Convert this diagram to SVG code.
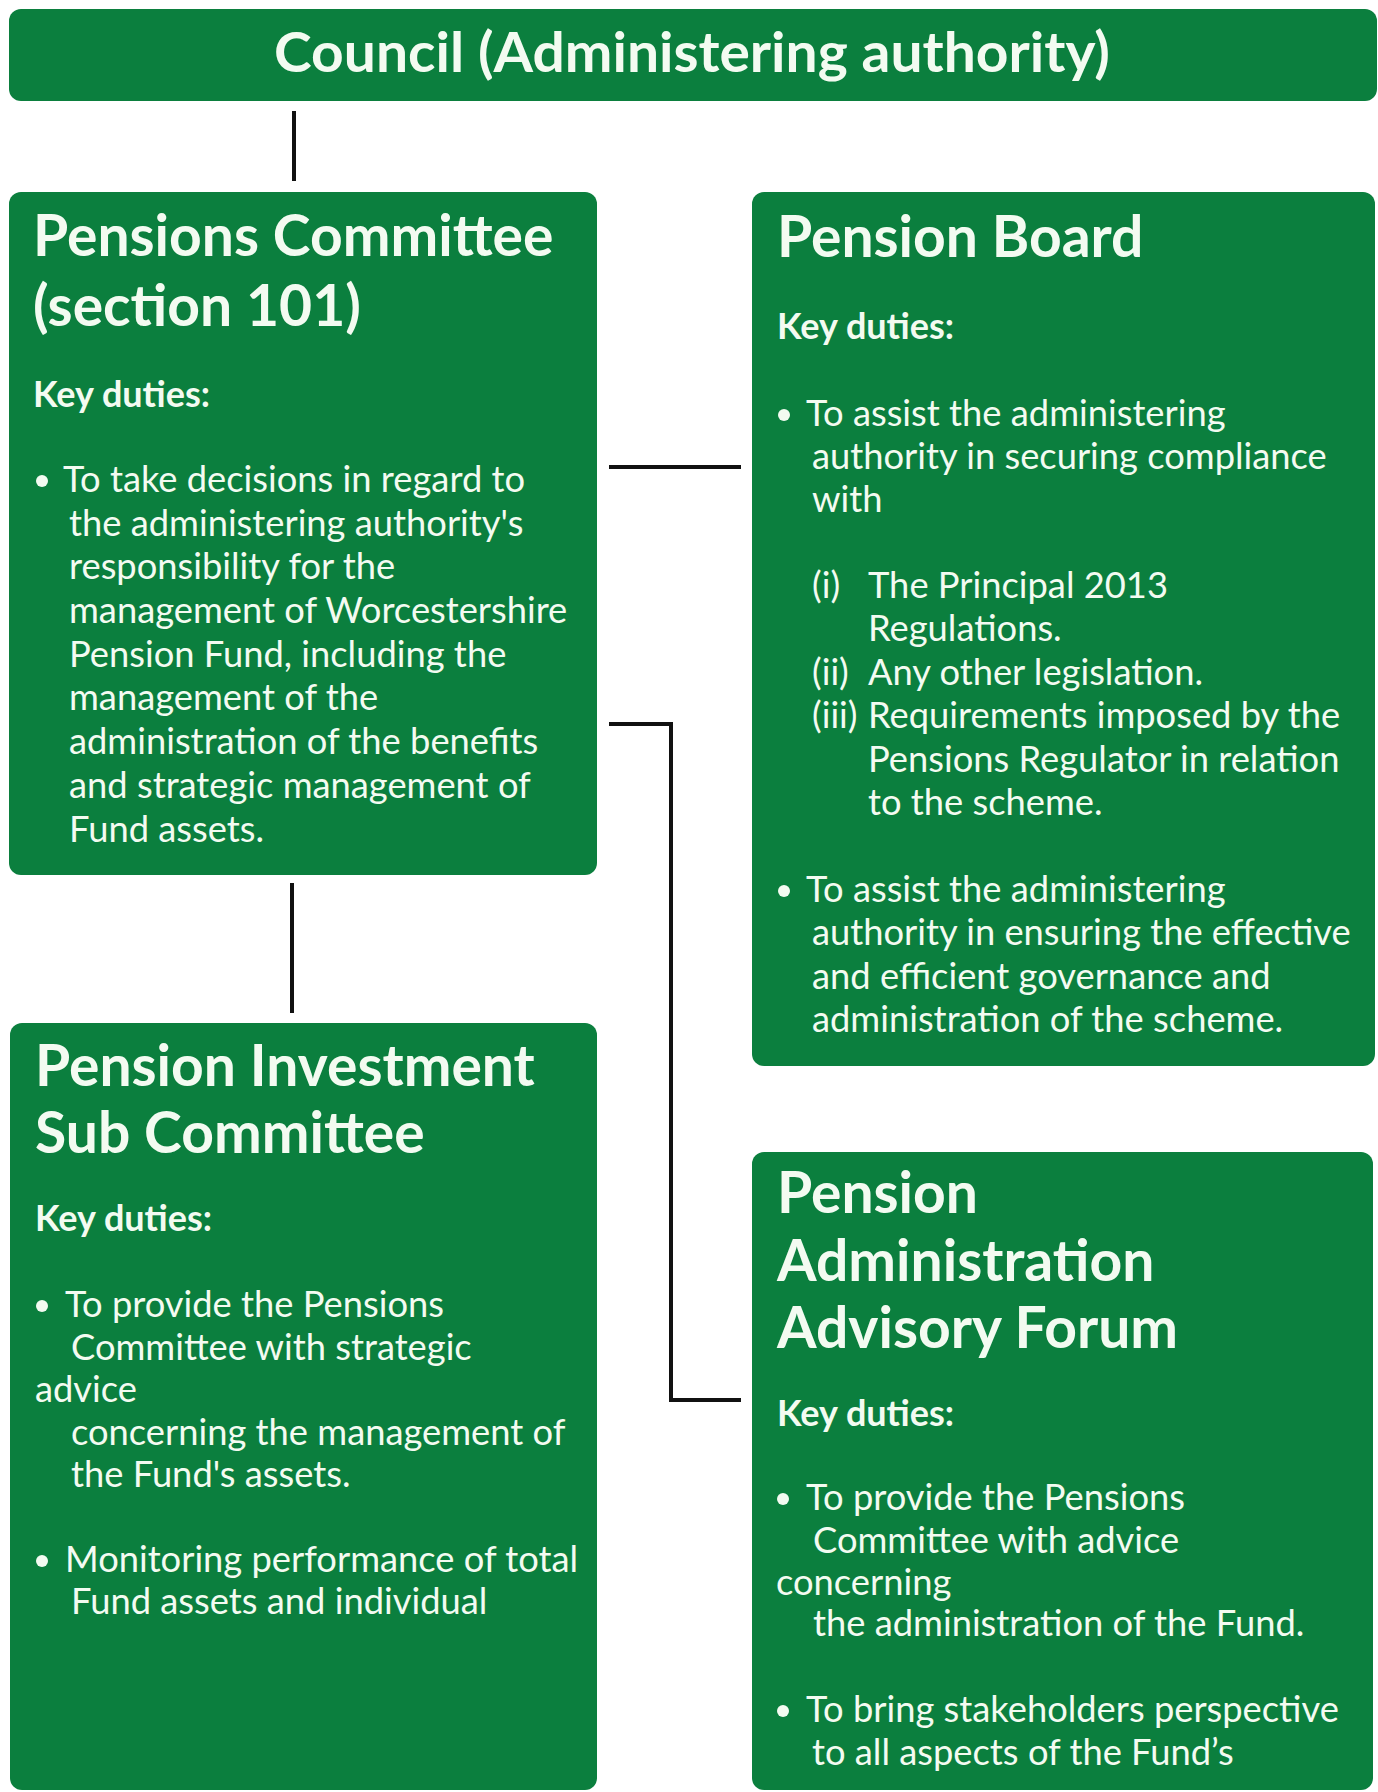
<svg xmlns="http://www.w3.org/2000/svg" width="1378" height="1792" viewBox="0 0 1378 1792">
<style>
.box{fill:#0b7f3e}
.t{fill:#f3fbf1;font-family:Lato,"Open Sans","Liberation Sans",sans-serif}
.banner{font-size:56px;font-weight:700}
.title{font-size:57px;font-weight:700}
.kd{font-size:36px;font-weight:700}
.b{font-size:36.3px;font-weight:400}
.dot{fill:#f3fbf1}
.conn{stroke:#111;stroke-width:4;fill:none}
</style>
<rect width="1378" height="1792" fill="#ffffff"/>
<g id="connectors">
<line class="conn" x1="294" y1="111" x2="294" y2="181"/>
<line class="conn" x1="292" y1="883" x2="292" y2="1013"/>
<line class="conn" x1="609" y1="467" x2="741" y2="467"/>
<polyline class="conn" points="609,724 671,724 671,1400 741,1400"/>
</g>
<g id="council">
<rect class="box" x="9" y="9" width="1368" height="92" rx="12"/>
<text class="t banner" x="692" y="72" text-anchor="middle" textLength="836" lengthAdjust="spacingAndGlyphs">Council (Administering authority)</text>
</g>
<g id="pensions-committee">
<rect class="box" x="9" y="192" width="588" height="683" rx="12"/>
<text class="t title" x="33" y="256">Pensions Committee</text>
<text class="t title" x="33" y="326">(section 101)</text>
<text class="t kd" x="33" y="407">Key duties:</text>
<circle class="dot" cx="42" cy="481" r="6"/>
<text class="t b" x="63" y="492">To take decisions in regard to</text>
<text class="t b" x="69" y="536">the administering authority's</text>
<text class="t b" x="69" y="579">responsibility for the</text>
<text class="t b" x="69" y="623">management of Worcestershire</text>
<text class="t b" x="69" y="667">Pension Fund, including the</text>
<text class="t b" x="69" y="710">management of the</text>
<text class="t b" x="69" y="754">administration of the benefits</text>
<text class="t b" x="69" y="798">and strategic management of</text>
<text class="t b" x="69" y="842">Fund assets.</text>
</g>
<g id="pension-board">
<rect class="box" x="752" y="192" width="623" height="874" rx="12"/>
<text class="t title" x="777" y="257">Pension Board</text>
<text class="t kd" x="777" y="339">Key duties:</text>
<circle class="dot" cx="784" cy="415" r="6"/>
<text class="t b" x="806" y="426">To assist the administering</text>
<text class="t b" x="812" y="469">authority in securing compliance</text>
<text class="t b" x="812" y="512">with</text>
<text class="t b" x="812" y="598">(i)</text>
<text class="t b" x="868" y="598">The Principal 2013</text>
<text class="t b" x="868" y="641">Regulations.</text>
<text class="t b" x="812" y="685">(ii)</text>
<text class="t b" x="868" y="685">Any other legislation.</text>
<text class="t b" x="812" y="728">(iii)</text>
<text class="t b" x="868" y="728">Requirements imposed by the</text>
<text class="t b" x="868" y="772">Pensions Regulator in relation</text>
<text class="t b" x="868" y="815">to the scheme.</text>
<circle class="dot" cx="784" cy="891" r="6"/>
<text class="t b" x="806" y="902">To assist the administering</text>
<text class="t b" x="812" y="945">authority in ensuring the effective</text>
<text class="t b" x="812" y="989">and efficient governance and</text>
<text class="t b" x="812" y="1032">administration of the scheme.</text>
</g>
<g id="pension-investment-sub-committee">
<rect class="box" x="10" y="1023" width="587" height="767" rx="12"/>
<text class="t title" x="35" y="1086">Pension Investment</text>
<text class="t title" x="35" y="1153">Sub Committee</text>
<text class="t kd" x="35" y="1231">Key duties:</text>
<circle class="dot" cx="42" cy="1306" r="6"/>
<text class="t b" x="65" y="1317">To provide the Pensions</text>
<text class="t b" x="71" y="1360">Committee with strategic</text>
<text class="t b" x="35" y="1402">advice</text>
<text class="t b" x="71" y="1445">concerning the management of</text>
<text class="t b" x="71" y="1487">the Fund's assets.</text>
<circle class="dot" cx="42" cy="1561" r="6"/>
<text class="t b" x="65" y="1572">Monitoring performance of total</text>
<text class="t b" x="71" y="1614">Fund assets and individual</text>
</g>
<g id="pension-administration-advisory-forum">
<rect class="box" x="752" y="1152" width="621" height="638" rx="12"/>
<text class="t title" x="777" y="1213">Pension</text>
<text class="t title" x="777" y="1281">Administration</text>
<text class="t title" x="777" y="1348">Advisory Forum</text>
<text class="t kd" x="777" y="1426">Key duties:</text>
<circle class="dot" cx="783" cy="1499" r="6"/>
<text class="t b" x="806" y="1510">To provide the Pensions</text>
<text class="t b" x="813" y="1553">Committee with advice</text>
<text class="t b" x="776" y="1595">concerning</text>
<text class="t b" x="813" y="1636">the administration of the Fund.</text>
<circle class="dot" cx="783" cy="1711" r="6"/>
<text class="t b" x="806" y="1722">To bring stakeholders perspective</text>
<text class="t b" x="812" y="1765">to all aspects of the Fund’s</text>
</g>
</svg>
